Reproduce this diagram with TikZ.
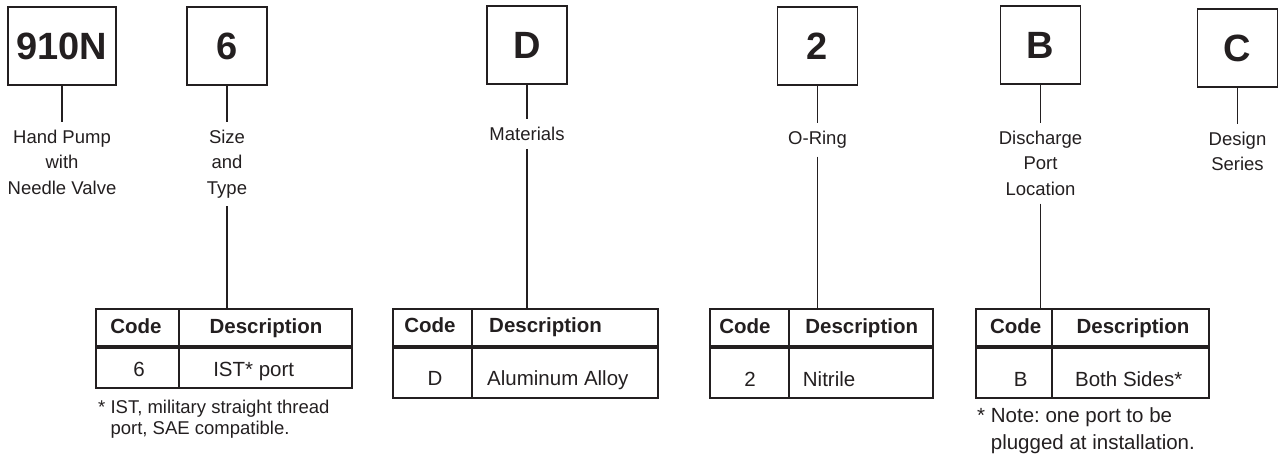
\documentclass[tikz,border=0pt]{standalone}
\usepackage{fontspec}
\setmainfont{Liberation Sans}
\usepackage{tikz}
\usetikzlibrary{positioning}
\usepackage{xcolor}
\definecolor{ink}{HTML}{231F20}
\frenchspacing

\begin{document}
\begin{tikzpicture}[
  x=1pt, y=-1pt,
  every node/.style={text=ink},
  codebox/.style={draw=ink, line width=1.8pt, minimum width=80pt, minimum height=78pt,
    inner sep=0pt, outer sep=0pt, font=\fontsize{38}{40}\selectfont\bfseries},
  lab/.style={font=\fontsize{18.5}{25.3}\selectfont, align=center, anchor=north,
    inner xsep=0pt, inner ysep=8pt},
  lead/.style={draw=ink, line width=1.4pt},
  tbl/.style={draw=ink, line width=1.8pt, inner sep=0pt, outer sep=0pt, anchor=north west},
  hd/.style={font=\fontsize{20.5}{22}\selectfont\bfseries, anchor=base, inner sep=0pt},
  cell/.style={font=\fontsize{20.5}{22}\selectfont, anchor=base, inner sep=0pt},
  note/.style={align=left, anchor=north west, inner sep=0pt}
]
  \useasboundingbox (0,0) rectangle (1281,461);

  % Code boxes
  \node[codebox, minimum width=108pt] (bmodel) at (62,46) {910N};
  \node[codebox] (bsize)   at (227,46)    {6};
  \node[codebox] (bmat)    at (527,45)    {D};
  \node[codebox] (bring)   at (817.5,46)  {2};
  \node[codebox] (bport)   at (1040.5,45) {B};
  \node[codebox] (bseries) at (1237.5,48) {C};

  % Labels
  \node[lab] (lmodel)  at (62,122)     {Hand Pump\\with\\Needle Valve};
  \node[lab] (lsize)   at (227,122)    {Size\\and\\Type};
  \node[lab] (lmat)    at (527,119)    {Materials};
  \node[lab] (lring)   at (817.5,123)  {O-Ring};
  \node[lab] (lport)   at (1040.5,123) {Discharge\\Port\\Location};
  \node[lab] (lseries) at (1237.5,124) {Design\\Series};

  \foreach \b/\l in {bmodel/lmodel, bsize/lsize, bmat/lmat, bring/lring, bport/lport, bseries/lseries}
    \draw[lead] (\b) -- (\l);

  % Tables
  \foreach \name/\l/\d/\r/\b in {tsize/96/179/352/388, tmat/393/472/658/398,
      tring/710/789/933/398, tport/976/1052/1209/398} {
    \node[tbl, minimum width={(\r-\l)*1pt}, minimum height={(\b-309)*1pt}] (\name) at (\l,309) {};
    \draw[draw=ink, line width=1.6pt] (\d,309) -- (\d,\b);
    \draw[draw=ink, line width=4.5pt] (\l,347) -- (\r,347);
  }

  \draw[lead] (lsize) -- (lsize |- tsize.north);
  \draw[lead] (lmat)  -- (lmat |- tmat.north);
  \draw[lead] (lring) -- (lring |- tring.north);
  \draw[lead] (lport) -- (lport |- tport.north);

  % Table text
  \node[hd] (hcode1) at (136,333)  {Code};
  \node[hd] (hdesc1) at (266,333)  {Description};
  \node[cell] (c1) at (139,376.5)  {6};
  \node[cell] (d1) at (253.7,376.5) {IST* port};

  \node[hd] (hcode2) at (430,332) {Code};
  \node[hd, anchor=base west] (hdesc2) at (489,332) {Description};
  \node[cell] (c2) at (435,385) {D};
  \node[cell, anchor=base west] (d2) at (487,385) {Aluminum Alloy};

  \node[hd] (hcode3) at (745,333)   {Code};
  \node[hd] (hdesc3) at (861.7,333) {Description};
  \node[cell] (c3) at (750,386.5) {2};
  \node[cell, anchor=base west] (d3) at (802.7,386.5) {Nitrile};

  \node[hd] (hcode4) at (1015.7,333) {Code};
  \node[hd] (hdesc4) at (1133,333)   {Description};
  \node[cell] (c4) at (1020.7,386.5) {B};
  \node[cell] (d4) at (1128.7,386.5) {Both Sides*};

  % Footnotes
  \node[note, font=\fontsize{18.5}{20.7}\selectfont] (fsize) at (98,400)
    {* IST, military straight thread\\\phantom{* }port, SAE compatible.};
  \node[note, font=\fontsize{20.5}{27}\selectfont] (fport) at (977,407)
    {* Note: one port to be\\\phantom{* }plugged at installation.};
\end{tikzpicture}
\end{document}
